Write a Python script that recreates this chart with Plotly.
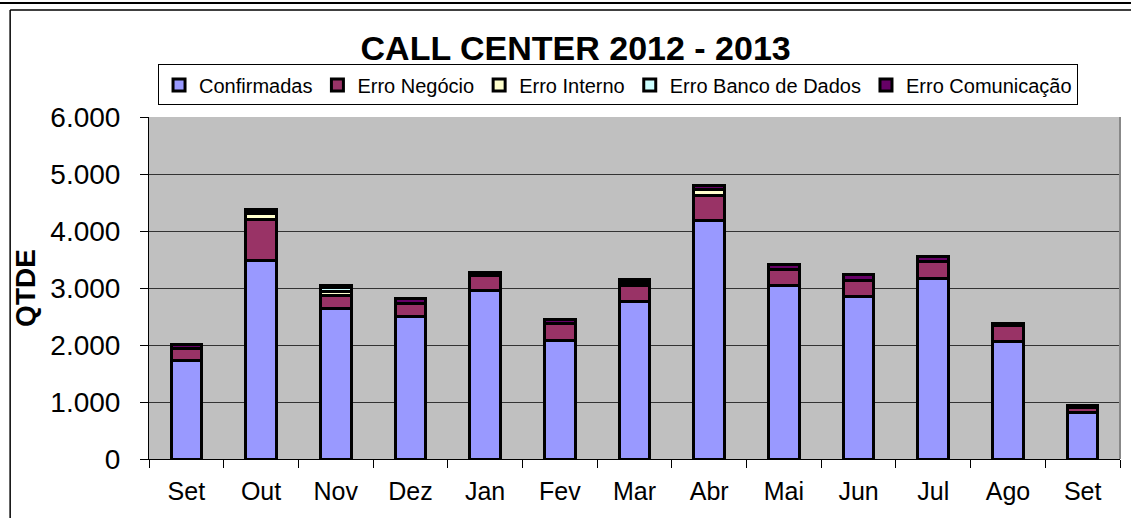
import plotly.graph_objects as go

months = ["Set", "Out", "Nov", "Dez", "Jan", "Fev", "Mar", "Abr", "Mai", "Jun", "Jul", "Ago", "Set"]
confirmadas = [1735, 3475, 2635, 2495, 2955, 2075, 2755, 4185, 3040, 2845, 3175, 2055, 820]
erro_negocio = [200, 720, 230, 230, 260, 300, 290, 440, 280, 290, 290, 280, 90]
erro_interno = [0, 120, 70, 0, 0, 0, 60, 100, 0, 0, 0, 0, 0]
erro_banco = [0, 10, 70, 0, 0, 0, 0, 0, 0, 0, 0, 0, 0]
erro_comunicacao = [70, 60, 40, 90, 60, 70, 45, 65, 90, 100, 90, 45, 25]
y_ticks = [0, 1000, 2000, 3000, 4000, 5000, 6000]

series = [
    ("Confirmadas", confirmadas, "#9999FF"),
    ("Erro Negócio", erro_negocio, "#993366"),
    ("Erro Interno", erro_interno, "#FFFFCC"),
    ("Erro Banco de Dados", erro_banco, "#CCFFFF"),
    ("Erro Comunicação", erro_comunicacao, "#660066"),
]

xpos = list(range(len(months)))
fig = go.Figure()
for name, vals, color in series:
    fig.add_trace(go.Bar(
        x=xpos, y=vals, name=name, width=0.41,
        marker=dict(color=color, line=dict(color="black", width=3)),
    ))

font = "Arial, Liberation Sans, sans-serif"
fig.update_layout(
    width=1131, height=518,
    barmode="stack",
    separators=",.",
    paper_bgcolor="white",
    plot_bgcolor="#C0C0C0",
    margin=dict(l=149, r=11, t=117, b=59),
    font=dict(family=font, color="black"),
    title=dict(text="<b>CALL CENTER 2012 - 2013</b>", x=0.509, xanchor="center",
               y=0.907, yanchor="middle", font=dict(size=34, family=font)),
    legend=dict(orientation="h", x=0.0093, xanchor="left", y=1.0936, yanchor="middle",
                bordercolor="black", borderwidth=1, bgcolor="white",
                font=dict(size=20, family=font), itemwidth=30,
                tracegroupgap=0, traceorder="normal"),
    showlegend=True,
    xaxis=dict(
        tickmode="array", tickvals=xpos, ticktext=months,
        range=[-0.5, len(months) - 0.5],
        ticks="", tickfont=dict(size=25, family=font), ticklabelstandoff=10,
        showgrid=False, zeroline=False,
        showline=True, linecolor="black", linewidth=1,
        minor=dict(tickmode="linear", tick0=-0.5, dtick=1, ticks="outside",
                   ticklen=8, tickcolor="black", showgrid=False),
    ),
    yaxis=dict(
        range=[0, 6000], tickvals=y_ticks, tickformat=",d",
        ticks="outside", ticklen=8, tickcolor="black",
        tickfont=dict(size=28, family=font), ticklabelstandoff=14,
        showgrid=True, gridcolor="#333333", gridwidth=1,
        zeroline=False, showline=True, linecolor="black", linewidth=1,
        title=dict(text="<b>QTDE</b>", font=dict(size=28, family=font), standoff=6),
    ),
    shapes=[
        dict(type="line", xref="paper", yref="paper", x0=-0.2, x1=1.1, y0=1.333, y1=1.333,
             line=dict(color="black", width=2)),
        dict(type="line", xref="paper", yref="paper", x0=-0.143, x1=1.1, y0=1.313, y1=1.313,
             line=dict(color="black", width=1.5)),
        dict(type="line", xref="paper", yref="paper", x0=-0.143, x1=-0.143, y0=1.313, y1=-0.3,
             line=dict(color="black", width=1.5)),
        dict(type="line", xref="paper", yref="paper", x0=1.0, x1=1.0, y0=0, y1=1,
             line=dict(color="#888888", width=2)),
    ],
)

fig.write_html("out.html", config={"displayModeBar": False},
               post_script="document.body.style.margin='0px';")
